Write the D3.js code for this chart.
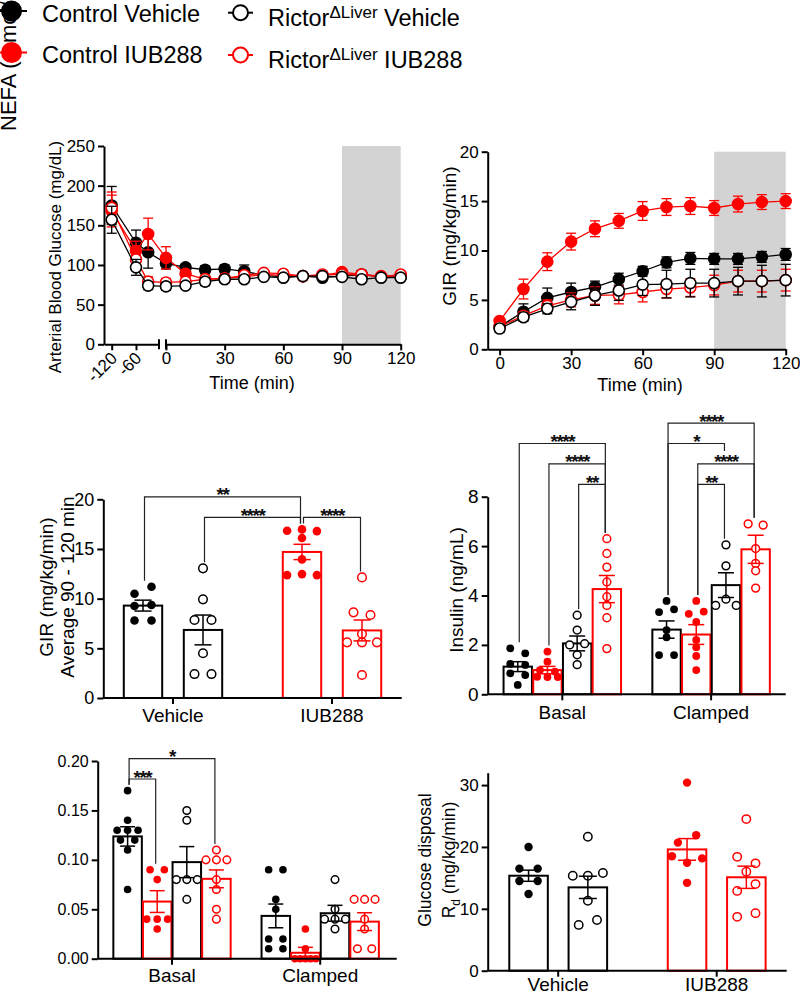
<!DOCTYPE html>
<html><head><meta charset="utf-8">
<script src="https://cdn.jsdelivr.net/npm/d3@7"></script>
<style>
body{margin:0;background:#fff;}
svg{display:block;}
</style></head><body>
<svg id="fig" width="800" height="996"></svg>
<script>
// ================= DATA =================
const seriesNames = ["Control Vehicle","Control IUB288","Rictor Vehicle","Rictor IUB288"];

// Panel A: arterial blood glucose (mg/dL)
const glucoseTime = [-120,-60,-30,0,10,20,30,40,50,60,70,80,90,100,110,120];
const glucoseCV    = [175,128,116,102,97,94,95,92,87,85,86,84,86,88,85,85];
const glucoseCVSem = [24,16,20,7,4,5,5,8,3,3,2,3,3,5,3,3];
const glucoseCI    = [168,118,139,109,89,82,83,85,88,87,86,87,91,88,86,87];
const glucoseCISem = [20,12,20,14,4,4,3,3,3,3,2,2,3,3,2,2];
const glucoseRV    = [157,97,74,73,74,79,82,82,85,84,86,86,85,82,84,84];
const glucoseRVSem = [17,10,5,5,3,5,4,3,3,3,2,2,2,3,2,2];
const glucoseRI    = [172,107,79,78,79,82,83,87,90,89,86,88,88,88,85,88];
const glucoseRISem = [20,8,6,5,3,4,3,3,3,3,2,2,2,2,2,2];
const glucoseTicksPre = [-120,-60];
const glucoseTicksPost = [0,30,60,90,120];
const glucoseYTicks = [0,50,100,150,200,250];

// Panel B: glucose infusion rate (mg/kg/min)
const girTime  = [0,10,20,30,40,50,60,70,80,90,100,110,120];
const girCV    = [2.3,3.8,5.2,5.8,6.3,7.1,7.9,8.8,9.2,9.15,9.15,9.35,9.6];
const girCVSem = [0.3,0.8,1.0,0.9,0.6,0.6,0.5,0.55,0.6,0.55,0.55,0.55,0.6];
const girCI    = [2.86,6.1,8.87,10.9,12.2,13.0,14.0,14.4,14.5,14.3,14.7,14.9,15.0];
const girCISem = [0.25,1.0,0.9,0.85,0.8,0.75,0.95,0.85,0.85,0.75,0.8,0.75,0.75];
const girRV    = [2.1,3.25,4.1,4.8,5.45,5.95,6.55,6.6,6.7,6.7,6.9,6.9,7.0];
const girRVSem = [0.4,0.4,0.5,0.8,1.0,1.0,1.1,1.4,1.4,1.4,1.4,1.6,1.6];
const girRI    = [2.3,3.4,4.4,5.0,5.45,5.5,5.8,6.1,6.25,6.5,6.9,6.9,7.0];
const girRISem = [0.3,0.4,0.6,0.7,0.9,0.9,1.0,0.9,0.9,1.0,1.1,1.1,1.1];
const girXTicks = [0,30,60,90,120];
const girYTicks = [0,5,10,15,20];

// Panel C: GIR average 90-120 min
const girAvgGroups = ["Vehicle","IUB288"];
const girAvgSeries = ["Control","Rictor"];
const girAvgMean = [[9.3,6.85],[14.7,6.8]];
const girAvgSem  = [[0.55,1.5],[0.77,1.05]];
const girAvgPoints = [
  [[10.5,11.2,9.26,9.36,7.8,7.8],[13.05,9.93,7.85,7.85,4.5,2.41,2.41]],
  [[16.83,16.97,16.8,16.1,13.95,12.37,12.47,12.37],[12.14,8.62,8.35,6.44,5.6,5.6,5.6,2.31]]
];
const girAvgComparisons = [
  ["Vehicle","Control","IUB288","Control","**"],
  ["Vehicle","Rictor","IUB288","Control","****"],
  ["IUB288","Control","IUB288","Rictor","****"]
];
const girAvgYTicks = [0,5,10,15,20];

// Panel D: insulin (ng/mL)
const insulinGroups = ["Basal","Clamped"];
const insulinSeries = seriesNames;
const insulinMean = [[1.12,0.98,2.06,4.26],[2.62,2.42,4.42,5.87]];
const insulinSem  = [[0.2,0.15,0.3,0.55],[0.35,0.4,0.5,0.57]];
const insulinPoints = [
  [[1.86,1.66,1.23,1.19,0.85,0.78,0.38],[1.73,1.32,0.98,0.92,0.71,0.7,0.7],[3.2,2.6,2.0,2.05,1.6,1.2],[6.3,5.7,5.15,4.55,3.95,3.6,3.1,1.85]],
  [[3.78,3.33,3.44,2.6,2.31,1.59,1.59],[3.78,3.26,3.35,2.93,2.2,1.9,1.55,0.98],[6.05,5.2,3.6,3.85,3.6],[6.9,6.85,5.9,5.3,5.0,4.3]]
];
const insulinComparisons = [
  ["Basal","Control Vehicle","Basal","Rictor IUB288","****"],
  ["Basal","Control IUB288","Basal","Rictor IUB288","****"],
  ["Basal","Rictor Vehicle","Basal","Rictor IUB288","**"],
  ["Clamped","Control Vehicle","Clamped","Rictor IUB288","****"],
  ["Clamped","Control IUB288","Clamped","Rictor IUB288","****"],
  ["Clamped","Control Vehicle","Clamped","Rictor Vehicle","*"],
  ["Clamped","Control IUB288","Clamped","Rictor Vehicle","**"]
];
const insulinYTicks = [0,2,4,6,8];

// Panel E: NEFA (mmol/L)
const nefaGroups = ["Basal","Clamped"];
const nefaSeries = seriesNames;
const nefaMean = [[0.1237,0.0578,0.0977,0.0808],[0.0433,0.006,0.046,0.0375]];
const nefaSem  = [[0.0098,0.011,0.0157,0.009],[0.012,0.0055,0.008,0.009]];
const nefaPoints = [
  [[0.17,0.14,0.13,0.13,0.13,0.12,0.12,0.11,0.07],[0.09,0.09,0.08,0.04,0.04,0.04,0.03],[0.15,0.14,0.08,0.08,0.08,0.06],[0.11,0.10,0.10,0.10,0.08,0.07,0.05,0.04]],
  [[0.09,0.09,0.06,0.05,0.02,0.02,0.01,0.01],[0.03,0.01,0,0,0,0,0],[0.08,0.05,0.04,0.04,0.04,0.03],[0.06,0.06,0.06,0.04,0.03,0.01,0.01]]
];
const nefaComparisons = [
  ["Basal","Control Vehicle","Basal","Control IUB288","***"],
  ["Basal","Control Vehicle","Basal","Rictor IUB288","*"]
];
const nefaYTicks = [0,0.05,0.10,0.15,0.20];

// Panel F: glucose disposal Rd (mg/kg/min)
const rdGroups = ["Vehicle","IUB288"];
const rdSeries = ["Control","Rictor"];
const rdMean = [[15.35,13.47],[19.6,15.1]];
const rdSem  = [[0.9,1.8],[1.75,1.8]];
const rdPoints = [
  [[20.0,16.5,16.5,14.5,14.5,12.4],[21.65,15.35,15.35,15.8,11.3,7.4,8.2]],
  [[30.4,20.7,21.9,18.5,17.45,18.15,14.2],[24.5,18.4,17.35,16.0,12.9,14.0,8.7,9.3]]
];
const rdYTicks = [0,10,20,30];

// ================= STYLE / LAYOUT =================
const RED = "#ff0000", INK = "#000";
const FONT = '"Liberation Sans", Arial, Helvetica, sans-serif';
const svg = d3.select("#fig").attr("font-family", FONT);
const plain = d => String(d);

const styleBySeries = {
  "Control Vehicle": {color: INK, filled: true},
  "Control IUB288":  {color: RED, filled: true},
  "Rictor Vehicle":  {color: INK, filled: false},
  "Rictor IUB288":   {color: RED, filled: false}
};

function styleAxis(a, fs) {
  a.attr("font-family", FONT).attr("font-size", fs);
  a.select(".domain").attr("stroke", INK).attr("stroke-width", 2);
  a.selectAll(".tick line").attr("stroke", INK).attr("stroke-width", 2);
  a.selectAll(".tick text").attr("fill", INK);
}
function yAxis(g, y, x, ticks, fmt, fs) {
  const a = g.append("g").attr("transform", `translate(${x},0)`)
    .call(d3.axisLeft(y).tickValues(ticks).tickFormat(fmt).tickSize(6).tickSizeOuter(0).tickPadding(3));
  styleAxis(a, fs);
  return a;
}
function rotLabel(g, lines, cy) {
  lines.forEach(L => {
    const t = g.append("text").attr("transform", `translate(${L.x},${cy}) rotate(-90)`)
      .attr("text-anchor", "middle").attr("font-size", L.fs).attr("fill", INK);
    L.parts.forEach(p => {
      const ts = t.append("tspan").text(p.t);
      if (p.fs) ts.attr("font-size", p.fs);
      if (p.dy) ts.attr("dy", p.dy);
    });
  });
}

// ---------- line panels ----------
function linePanel(cfg) {
  const g = svg.append("g");
  const y = d3.scaleLinear().domain(cfg.yDomain).range(cfg.yRange);
  const xf = cfg.xf;
  g.append("rect").attr("x", xf(cfg.band[0])).attr("width", xf(cfg.band[1]) - xf(cfg.band[0]))
    .attr("y", y(cfg.yDomain[1])).attr("height", y(cfg.yDomain[0]) - y(cfg.yDomain[1]))
    .attr("fill", "#d3d3d3");
  yAxis(g, y, cfg.yAxisX, cfg.yTicks, plain, cfg.tickFs);
  cfg.drawX(g, y);
  rotLabel(g, cfg.yLabel, cfg.yLabelCy);
  g.append("text").attr("x", cfg.xLabelX).attr("y", cfg.xLabelY).attr("text-anchor", "middle")
    .attr("font-size", 18).attr("fill", INK).text("Time (min)");
  cfg.order.forEach(name => {
    const s = cfg.series[name], st = styleBySeries[name];
    const sg = g.append("g");
    cfg.time.forEach((t, i) => {
      const cx = xf(t), m = s.mean[i], e = s.sem[i];
      sg.append("line").attr("x1", cx).attr("x2", cx).attr("y1", y(m - e)).attr("y2", y(m + e))
        .attr("stroke", st.color).attr("stroke-width", 1.3);
      [m - e, m + e].forEach(v => sg.append("line").attr("x1", cx - 5).attr("x2", cx + 5)
        .attr("y1", y(v)).attr("y2", y(v)).attr("stroke", st.color).attr("stroke-width", 1.3));
    });
    sg.append("path").datum(cfg.time.map((t, i) => [xf(t), y(s.mean[i])]))
      .attr("d", d3.line()).attr("fill", "none").attr("stroke", st.color).attr("stroke-width", 1.3);
    sg.selectAll("circle.m").data(cfg.time.map((t, i) => [xf(t), y(s.mean[i])])).join("circle")
      .attr("cx", d => d[0]).attr("cy", d => d[1]).attr("r", 5.5)
      .attr("fill", st.filled ? st.color : "#fff").attr("stroke", st.color).attr("stroke-width", 1.6);
  });
}

// Panel A
(function(){
  const xPre = d3.scaleLinear().domain([-139, -3.2]).range([104, 159]);
  const xPost = d3.scaleLinear().domain([0, 120]).range([166, 400.7]);
  const xf = t => t < 0 ? xPre(t) : xPost(t);
  linePanel({
    yDomain: [0, 250], yRange: [344.3, 146], xf, band: [90, 120],
    yAxisX: 104, yTicks: glucoseYTicks, tickFs: 17,
    yLabel: [{x: 61, fs: 17, parts: [{t: "Arterial Blood Glucose (mg/dL)"}]}], yLabelCy: 257,
    xLabelX: 252, xLabelY: 389,
    time: glucoseTime,
    series: {
      "Control Vehicle": {mean: glucoseCV, sem: glucoseCVSem},
      "Control IUB288": {mean: glucoseCI, sem: glucoseCISem},
      "Rictor Vehicle": {mean: glucoseRV, sem: glucoseRVSem},
      "Rictor IUB288": {mean: glucoseRI, sem: glucoseRISem}
    },
    order: ["Control Vehicle","Control IUB288","Rictor IUB288","Rictor Vehicle"],
    drawX: (g, y) => {
      const y0 = y(0);
      const a1 = g.append("g").attr("transform", `translate(0,${y0})`)
        .call(d3.axisBottom(xPre).tickValues(glucoseTicksPre).tickSize(6).tickSizeOuter(0).tickFormat(plain));
      styleAxis(a1, 17);
      a1.selectAll(".tick text").attr("text-anchor", "end").attr("dy", null).attr("y", null)
        .attr("transform", "translate(6,15) rotate(-45)");
      const a2 = g.append("g").attr("transform", `translate(0,${y0})`)
        .call(d3.axisBottom(xPost).tickValues(glucoseTicksPost).tickSize(6).tickSizeOuter(0).tickPadding(2).tickFormat(plain));
      styleAxis(a2, 17);
      [xPre.range()[1], xPost.range()[0]].forEach(bx => g.append("line")
        .attr("x1", bx).attr("x2", bx).attr("y1", y0 - 5).attr("y2", y0 + 5)
        .attr("stroke", INK).attr("stroke-width", 2));
    }
  });
})();

// Panel B
(function(){
  const x = d3.scaleLinear().domain([-5, 120]).range([487.7, 785.7]);
  linePanel({
    yDomain: [0, 20], yRange: [349.3, 151.7], xf: x, band: [90, 120],
    yAxisX: 487.7, yTicks: girYTicks, tickFs: 17,
    yLabel: [{x: 456, fs: 19, parts: [{t: "GIR (mg/kg/min)"}]}], yLabelCy: 236,
    xLabelX: 640, xLabelY: 391,
    time: girTime,
    series: {
      "Control Vehicle": {mean: girCV, sem: girCVSem},
      "Control IUB288": {mean: girCI, sem: girCISem},
      "Rictor Vehicle": {mean: girRV, sem: girRVSem},
      "Rictor IUB288": {mean: girRI, sem: girRISem}
    },
    order: ["Control Vehicle","Control IUB288","Rictor IUB288","Rictor Vehicle"],
    drawX: (g, y) => {
      const a = g.append("g").attr("transform", `translate(0,${y(0)})`)
        .call(d3.axisBottom(x).tickValues(girXTicks).tickSize(6).tickSizeOuter(0).tickPadding(2).tickFormat(plain));
      styleAxis(a, 17);
    }
  });
})();

// ---------- bar panels ----------
function swarmOffsets(values, y, thresh, spacingFor) {
  const idx = values.map((v, i) => i).sort((a, b) => values[b] - values[a]);
  const clusters = []; let cur = null;
  idx.forEach(i => {
    if (cur && Math.abs(y(values[i]) - y(values[cur[0]])) <= thresh) cur.push(i);
    else { cur = [i]; clusters.push(cur); }
  });
  const off = new Array(values.length).fill(0);
  clusters.forEach(c => {
    c.sort((a, b) => a - b);
    const n = c.length, sp = spacingFor(n);
    c.forEach((i, k) => off[i] = (k - (n - 1) / 2) * sp);
  });
  return off;
}

function barPanel(p) {
  const g = svg.append("g");
  const y = d3.scaleLinear().domain(p.yDomain).range(p.yRange);
  const gx = d3.scalePoint().domain(p.groups).range(p.groupCenters);
  const sx = d3.scaleBand().domain(p.series).range([-p.halfSpan, p.halfSpan])
    .paddingInner(p.padIn).paddingOuter(p.padIn / 2);
  const bw = sx.bandwidth();
  const barCx = (gn, sn) => gx(gn) + sx(sn) + bw / 2;
  const topOf = {};

  // bars
  p.groups.forEach((gn, gi) => p.series.forEach((sn, si) => {
    const st = p.style(gn, sn), m = p.mean[gi][si];
    g.append("rect").attr("x", barCx(gn, sn) - bw / 2).attr("y", y(m))
      .attr("width", bw).attr("height", y(0) - y(m))
      .attr("fill", "#fff").attr("stroke", st.color).attr("stroke-width", 2);
  }));
  // points
  p.groups.forEach((gn, gi) => p.series.forEach((sn, si) => {
    const st = p.style(gn, sn), vals = p.points[gi][si], cx = barCx(gn, sn);
    const off = swarmOffsets(vals, y, p.thresh,
      n => n <= 1 ? 0 : Math.min(p.pairSpacing, (bw - 2 * p.r) / (n - 1)));
    g.append("g").selectAll("circle").data(vals).join("circle")
      .attr("cx", (d, i) => cx + off[i]).attr("cy", d => y(d)).attr("r", p.r)
      .attr("fill", st.filled ? st.color : "#fff")
      .attr("stroke", st.filled ? "none" : st.color).attr("stroke-width", 1.5);
    topOf[gn + "|" + sn] = y(Math.max(d3.max(vals), p.mean[gi][si] + p.sem[gi][si]));
  }));
  // error bars
  p.groups.forEach((gn, gi) => p.series.forEach((sn, si) => {
    const st = p.style(gn, sn), m = p.mean[gi][si], e = p.sem[gi][si], cx = barCx(gn, sn);
    g.append("line").attr("x1", cx).attr("x2", cx).attr("y1", y(m - e)).attr("y2", y(m + e))
      .attr("stroke", st.color).attr("stroke-width", 1.5);
    [m - e, m + e].forEach(v => g.append("line").attr("x1", cx - p.cap).attr("x2", cx + p.cap)
      .attr("y1", y(v)).attr("y2", y(v)).attr("stroke", st.color).attr("stroke-width", 1.5));
  }));
  // axes
  yAxis(g, y, p.xExtent[0], p.yTicks, p.yFmt, p.tickFs);
  g.append("line").attr("x1", p.xExtent[0]).attr("x2", p.xExtent[1]).attr("y1", y(0)).attr("y2", y(0))
    .attr("stroke", INK).attr("stroke-width", 2);
  p.groups.forEach(gn => {
    g.append("line").attr("x1", gx(gn)).attr("x2", gx(gn)).attr("y1", y(0)).attr("y2", y(0) + 6)
      .attr("stroke", INK).attr("stroke-width", 2);
    g.append("text").attr("x", gx(gn)).attr("y", y(0) + p.catDy).attr("text-anchor", "middle")
      .attr("font-size", 19).attr("fill", INK).text(gn);
  });
  if (p.yLabel) rotLabel(g, p.yLabel, p.yLabelCy);

  // significance brackets
  if (p.comparisons) {
    const items = p.comparisons.map(([g1, s1, g2, s2, label]) => {
      let a = {k: g1 + "|" + s1, x: barCx(g1, s1)}, b = {k: g2 + "|" + s2, x: barCx(g2, s2)};
      if (a.x > b.x) [a, b] = [b, a];
      return {a, b, label, x0: a.x + 1.5, x1: b.x - 1.5, w: b.x - a.x};
    });
    const levels = [];
    items.slice().sort((u, v) => u.w - v.w).forEach(it => {
      let L = 0;
      while (levels[L] && levels[L].some(o => Math.max(o.x0, it.x0) < Math.min(o.x1, it.x1))) L++;
      (levels[L] = levels[L] || []).push(it);
      it.y = p.bracketBase - L * 20.4;
    });
    const legEnd = (it, x, key) => {
      let bottom = topOf[key] - 6;
      items.forEach(o => {
        if (o !== it && o.y > it.y && o.x0 < x - 0.01 && x + 0.01 < o.x1) bottom = Math.min(bottom, o.y - 13);
      });
      return bottom;
    };
    items.forEach(it => {
      const b0 = legEnd(it, it.x0, it.a.k), b1 = legEnd(it, it.x1, it.b.k);
      g.append("path").attr("d", `M${it.x0},${b0}V${it.y}H${it.x1}V${b1}`)
        .attr("fill", "none").attr("stroke", "#222").attr("stroke-width", 1.2);
      g.append("text").attr("x", (it.x0 + it.x1) / 2).attr("y", it.y + 4.5).attr("text-anchor", "middle")
        .attr("font-size", 19).attr("font-weight", "bold").attr("letter-spacing", -1.5).attr("fill", "#111")
        .text(it.label);
    });
  }
}

const styleByGroupColor = (gn, sn) => ({color: gn === "IUB288" ? RED : INK, filled: sn === "Control"});
const styleBySeriesName = (gn, sn) => styleBySeries[sn];

// Panel C
barPanel({
  groups: girAvgGroups, series: girAvgSeries, mean: girAvgMean, sem: girAvgSem, points: girAvgPoints,
  comparisons: girAvgComparisons, style: styleByGroupColor,
  yDomain: [0, 20], yRange: [698, 499.3], yTicks: girAvgYTicks, yFmt: plain, tickFs: 18,
  groupCenters: [173, 332], halfSpan: 60, padIn: 0.36, xExtent: [103.3, 401.7], catDy: 24,
  r: 4.3, thresh: 8, pairSpacing: 17, cap: 8.5, bracketBase: 517.3,
  yLabel: [{x: 53, fs: 19, parts: [{t: "GIR (mg/kg/min)"}]}, {x: 74, fs: 19, parts: [{t: "Average 90 - 120 min"}]}],
  yLabelCy: 587
});

// Panel D
barPanel({
  groups: insulinGroups, series: insulinSeries, mean: insulinMean, sem: insulinSem, points: insulinPoints,
  comparisons: insulinComparisons, style: styleBySeriesName,
  yDomain: [0, 8], yRange: [694.3, 496.7], yTicks: insulinYTicks, yFmt: plain, tickFs: 19,
  groupCenters: [562.3, 711.1], halfSpan: 59.4, padIn: 0.044, xExtent: [487.7, 785.7], catDy: 25,
  r: 3.9, thresh: 6.5, pairSpacing: 15, cap: 8, bracketBase: 484.3,
  yLabel: [{x: 463, fs: 19, parts: [{t: "Insulin (ng/mL)"}]}], yLabelCy: 590
});

// Panel E
barPanel({
  groups: nefaGroups, series: nefaSeries, mean: nefaMean, sem: nefaSem, points: nefaPoints,
  comparisons: nefaComparisons, style: styleBySeriesName,
  yDomain: [0, 0.2], yRange: [958.7, 761], yTicks: nefaYTicks, yFmt: d3.format(".2f"), tickFs: 16,
  groupCenters: [172, 320.2], halfSpan: 59.2, padIn: 0.037, xExtent: [97.7, 396.7], catDy: 23,
  r: 3.8, thresh: 5, pairSpacing: 14.3, cap: 7.5, bracketBase: 779
});

// Panel F
barPanel({
  groups: rdGroups, series: rdSeries, mean: rdMean, sem: rdSem, points: rdPoints,
  comparisons: null, style: styleByGroupColor,
  yDomain: [0, 32], yRange: [970.7, 772.7], yTicks: rdYTicks, yFmt: plain, tickFs: 17,
  groupCenters: [558.2, 716.7], halfSpan: 59.3, padIn: 0.35, xExtent: [487.7, 786.7], catDy: 20.5,
  r: 4.2, thresh: 7.5, pairSpacing: 18.3, cap: 9,
  yLabel: [
    {x: 431, fs: 17.5, parts: [{t: "Glucose disposal"}]},
    {x: 455, fs: 17.5, parts: [{t: "R"}, {t: "d", fs: 12, dy: 5}, {t: " (mg/kg/min)", dy: -5}]}
  ],
  yLabelCy: 860
});

// ---------- stray NEFA axis title (cut off at the top, as in the source figure) ----------
svg.append("text").attr("transform", "translate(16,131) rotate(-90)").attr("text-anchor", "start")
  .attr("font-size", 22).attr("fill", INK).text("NEFA (mmol/L)");

// ---------- legend ----------
const legendLayout = [
  {name: "Control Vehicle", cx: 11.5, cy: 11, r: 9.5, l0: -2, l1: 27, tx: 42, ty: 21.5},
  {name: "Control IUB288",  cx: 11.5, cy: 52.5, r: 9.5, l0: -2, l1: 27, tx: 42, ty: 62.5},
  {name: "Rictor Vehicle",  cx: 240.5, cy: 12.7, r: 7.5, l0: 228, l1: 253, tx: 268, ty: 26},
  {name: "Rictor IUB288",   cx: 240.5, cy: 55, r: 7.5, l0: 228, l1: 253, tx: 268, ty: 68}
];
const lg = svg.append("g");
legendLayout.forEach(L => {
  const st = styleBySeries[L.name];
  lg.append("line").attr("x1", L.l0).attr("x2", L.l1).attr("y1", L.cy).attr("y2", L.cy)
    .attr("stroke", st.color).attr("stroke-width", 2);
  lg.append("circle").attr("cx", L.cx).attr("cy", L.cy).attr("r", L.r)
    .attr("fill", st.filled ? st.color : "#fff").attr("stroke", st.color).attr("stroke-width", 2);
  const [geno, treat] = L.name.split(" ");
  const t = lg.append("text").attr("x", L.tx).attr("y", L.ty).attr("font-size", 23.5).attr("fill", INK);
  if (geno === "Rictor") {
    t.append("tspan").text("Rictor");
    t.append("tspan").attr("font-size", 17).attr("dy", -8.5).text("\u0394Liver");
    t.append("tspan").attr("dy", 8.5).text(" " + treat);
  } else {
    t.text(L.name);
  }
});
</script>
</body></html>
